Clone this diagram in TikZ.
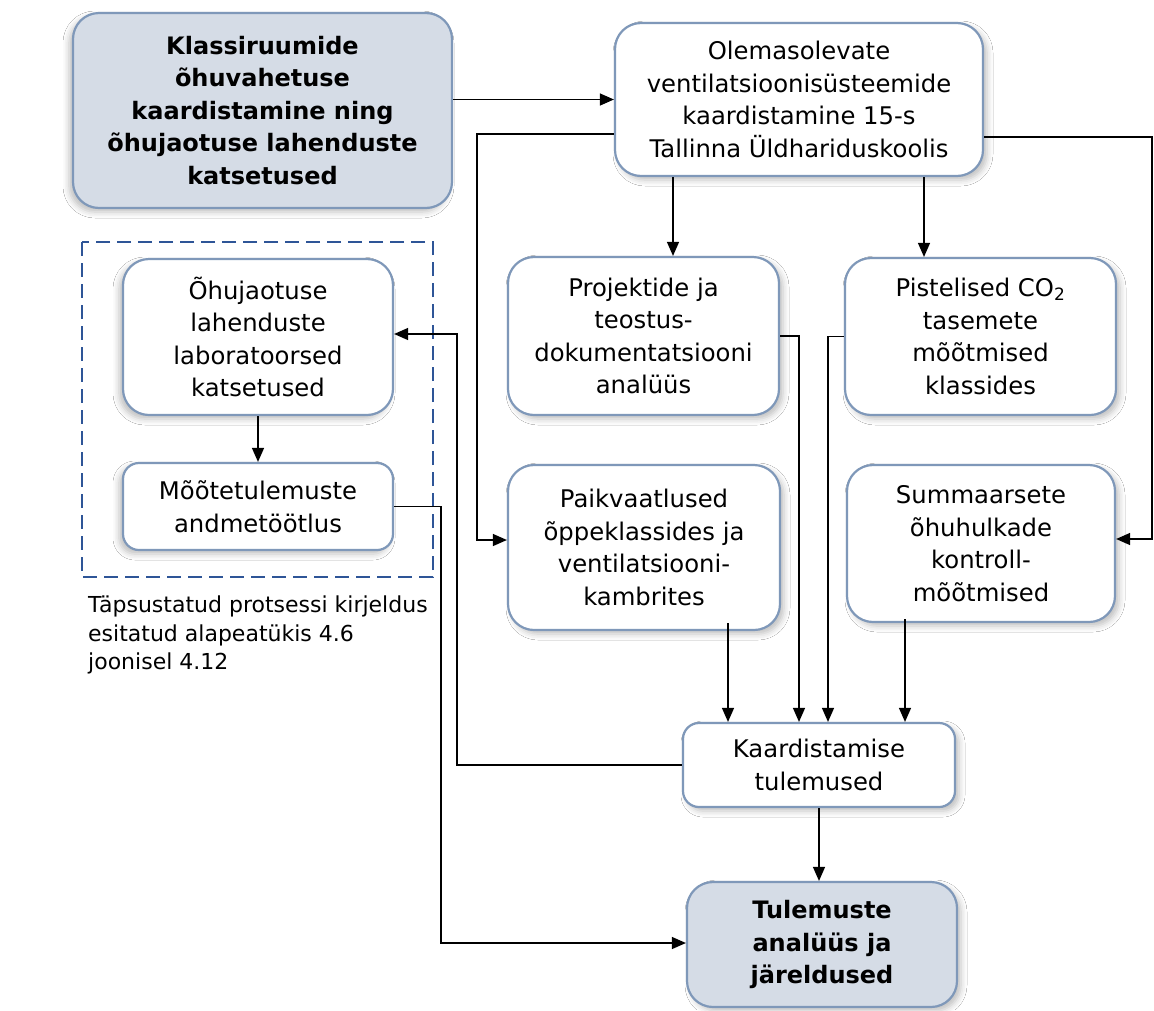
\documentclass[tikz,border=0pt]{standalone}
\usepackage{fontspec}
\setmainfont{DejaVu Sans}
\usetikzlibrary{arrows.meta,calc,shadows.blur}
\definecolor{bordc}{HTML}{7F98B9}
\definecolor{fillc}{HTML}{D5DCE6}
\definecolor{dashc}{HTML}{2E5597}
\begin{document}
\begin{tikzpicture}[x=1pt,y=-1pt,
  shadr/.style={blur shadow={shadow xshift=4pt,shadow yshift=-4pt,shadow blur radius=6pt,shadow opacity=25}},
  shadl/.style={blur shadow={shadow xshift=-4pt,shadow yshift=-4pt,shadow blur radius=6pt,shadow opacity=25}},
  boxbase/.style={draw=bordc,line width=2.2pt,align=center,inner sep=0pt,
     font=\fontsize{24.3}{32.5}\selectfont},
  bigbox/.style={boxbase,rounded corners=26pt},
  smallbox/.style={boxbase,rounded corners=16pt},
  keybox/.style={bigbox,fill=fillc,font=\fontsize{24}{32.5}\selectfont\bfseries},
  plainbox/.style={bigbox,fill=white},
  arr/.style={line width=1.3pt,-{Triangle[length=14pt,width=12pt]}},
]
\useasboundingbox (0,0) rectangle (1154,1010);
\fill[white] (0,0) rectangle (1154,1010);

% dashed group
\draw[dashc,line width=2.6pt,dash pattern=on 14pt off 7pt] (82,242) rectangle (433,577);

\node[keybox,shadl,minimum width=379pt,minimum height=195pt] (A) at (262.5,110.5)
  {Klassiruumide\\õhuvahetuse\\kaardistamine ning\\õhujaotuse lahenduste\\katsetused};
\node[plainbox,shadr,minimum width=368pt,minimum height=153pt] (B) at (799,99.5)
  {Olemasolevate\\ventilatsioonisüsteemide\\kaardistamine 15-s\\Tallinna Üldhariduskoolis};
\node[plainbox,shadr,minimum width=271pt,minimum height=158pt] (C) at (643.5,336)
  {Projektide ja\\teostus-\\dokumentatsiooni\\analüüs};
\node[plainbox,shadr,minimum width=271pt,minimum height=157pt] (E) at (980.5,336.5)
  {Pistelised CO\textsubscript{2}\\tasemete\\mõõtmised\\klassides};
\node[plainbox,shadr,minimum width=272pt,minimum height=165pt] (D) at (644,547.5)
  {Paikvaatlused\\õppeklassides ja\\ventilatsiooni-\\kambrites};
\node[plainbox,shadr,minimum width=268pt,minimum height=157pt] (F) at (981,543.5)
  {Summaarsete\\õhuhulkade\\kontroll-\\mõõtmised};
\node[plainbox,shadl,minimum width=270pt,minimum height=156pt] (G) at (258,337)
  {Õhujaotuse\\lahenduste\\laboratoorsed\\katsetused};
\node[smallbox,shadl,fill=white,minimum width=270pt,minimum height=87pt] (H) at (258,506.5)
  {Mõõtetulemuste\\andmetöötlus};
\node[smallbox,shadr,fill=white,minimum width=272pt,minimum height=84pt] (I) at (819,765)
  {Kaardistamise\\tulemused};
\node[keybox,shadr,minimum width=270pt,minimum height=125pt] (J) at (822,944.5)
  {Tulemuste\\analüüs ja\\järeldused};

\node[anchor=north west,align=left,inner sep=0pt,font=\fontsize{22}{28.5}\selectfont] (cap) at (88,596)
  {Täpsustatud protsessi kirjeldus\\esitatud alapeatükis 4.6\\joonisel 4.12};

% helper coordinates
\coordinate (d1) at (477,540);
\coordinate (f1) at (1152,539);
\coordinate (c1) at (673,0);
\coordinate (e1) at (924,0);
\coordinate (g1) at (457,334);
\coordinate (j1) at (441,943);
\coordinate (i1) at (728,0);
\coordinate (i2) at (799,0);
\coordinate (i3) at (828,0);
\coordinate (i4) at (905,0);

% connectors
\draw[arr] (A.east |- B.west) -- (B.west);
\draw[arr] ($(B.west)+(0,34.5)$) -| (d1) -- (d1 -| D.west);
\draw[arr] ($(B.east)+(0,37.5)$) -| (f1) -- (f1 -| F.east);
\draw[arr] (B.south -| c1) -- (C.north -| c1);
\draw[arr] (B.south -| e1) -- (E.north -| e1);
\draw[arr] (G.south) -- (H.north);
\draw[arr] (I.west) -| (g1) -- (g1 -| G.east);
\draw[arr] (H.east) -| (j1) -- (j1 -| J.west);
\draw[arr] (C.east) -| (I.north -| i2);
\draw[arr] (E.west) -| (I.north -| i3);
\draw[arr] ($(D.south -| i1)+(0,-8)$) -- (I.north -| i1);
\draw[arr] ($(F.south -| i4)+(0,-4)$) -- (I.north -| i4);
\draw[arr] (I.south) -- (J.north -| I.south);
\end{tikzpicture}
\end{document}
